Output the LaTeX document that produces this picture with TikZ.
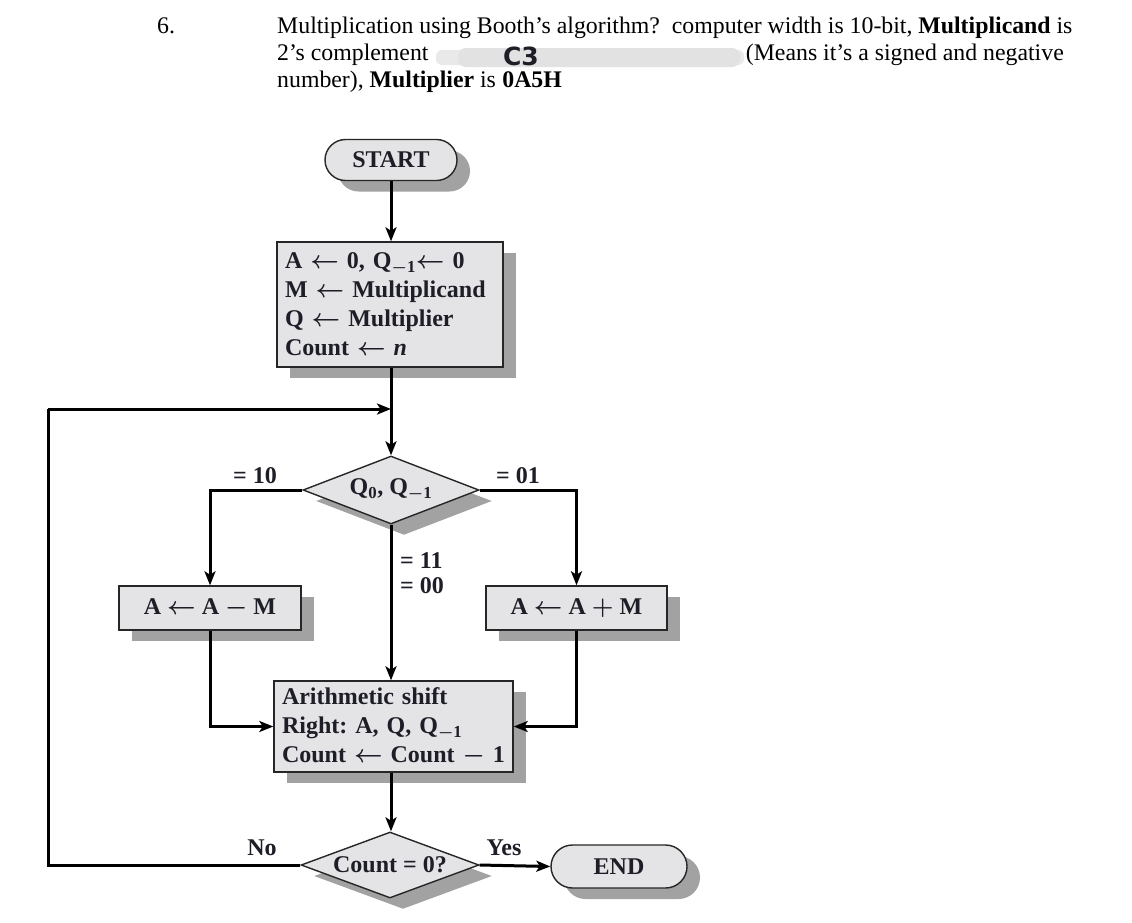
\documentclass[tikz,border=0pt]{standalone}
\usepackage{fontspec}
\setmainfont{Liberation Serif}
\newfontfamily\cfont{DejaVu Sans}
\usetikzlibrary{arrows.meta,shapes.geometric,shapes.misc,shadows}
\definecolor{boxfill}{HTML}{E4E4E6}
\definecolor{shadowc}{HTML}{A2A2A2}
\definecolor{inkc}{HTML}{1E1E28}
\definecolor{blurc}{HTML}{E2E2E2}
\frenchspacing
\tikzset{
  hdr/.style={inner sep=0pt, font=\fontsize{23.8}{27}\selectfont, text=black},
  fcfont/.style={font=\fontsize{24}{29}\selectfont\bfseries\boldmath, text=inkc},
  shad/.style={drop shadow={shadow xshift=13pt, shadow yshift=-11pt, fill=shadowc, opacity=1}},
  procbox/.style={rectangle, draw=black!85, line width=1.4pt, fill=boxfill, shad, fcfont},
  termbox/.style={rounded rectangle, draw=black!85, line width=1.4pt, fill=boxfill, shad, fcfont, inner sep=0pt},
  decbox/.style={diamond, draw=black!85, line width=1.4pt, fill=boxfill, shad, fcfont, inner sep=0pt, aspect=2.6},
  lbl/.style={fcfont, inner sep=0pt},
  conn/.style={line width=3pt, black, line cap=butt},
  arr/.style={conn, -{Stealth[length=14pt, width=11pt, inset=3.5pt]}},
}
\begin{document}
\begin{tikzpicture}[x=1pt, y=-1pt]
\useasboundingbox[fill=white] (0,0) rectangle (1132,922);

% ---------- header ----------
\node[hdr, anchor=base west] (num) at (157,33) {6.};
\node[hdr, anchor=base west] (l1) at (277,33) {Multiplication using Booth’s algorithm?\ \ computer width is 10-bit, \textbf{Multiplicand} is};
\node[hdr, anchor=base west] (l2a) at (277,60) {2’s complement};
\fill[blurc!75!white, rounded corners=6pt] (436,50) rectangle (744,65);
\fill[blurc, rounded corners=8pt] (458,48) rectangle (740,67);
\node[inner sep=0pt, text=inkc, anchor=base] (c3) at (521,65) {\cfont\bfseries\fontsize{25}{26}\selectfont C3};
\node[hdr, anchor=base east] (l2b) at (1064,60) {(Means it’s a signed and negative};
\node[hdr, anchor=base west] (l3) at (277,87) {number), \textbf{Multiplier} is};
\node[hdr, anchor=base west] (l3b) at ([xshift=6pt]l3.base east) {\textbf{0A5H}};

% ---------- flowchart nodes ----------
\node[termbox, minimum width=132pt, minimum height=41pt] (start) at (391,160) {START};
\node[procbox, minimum width=226pt, minimum height=125pt, text width=210pt, inner xsep=8pt, align=left] (init) at (390,304.5)
  {A $\leftarrow$ 0, Q\textsubscript{$-$1}$\leftarrow$ 0\\ M $\leftarrow$ Multiplicand\\ Q $\leftarrow$ Multiplier\\ Count $\leftarrow$ \textit{n}};
\coordinate (merge) at (391,409);
\coordinate (lc) at (48,409);
\node[decbox, minimum width=176pt, minimum height=68pt] (d1) at (391,490) {Q\textsubscript{0}, Q\textsubscript{$-$1}};
\node[procbox, minimum width=182pt, minimum height=44pt] (sub) at (210,608) {A $\leftarrow$ A $-$ M};
\node[procbox, minimum width=181pt, minimum height=44pt] (add) at (576.5,608) {A $\leftarrow$ A $+$ M};
\node[procbox, minimum width=239pt, minimum height=91pt, text width=223pt, inner xsep=8pt, align=left] (shift) at (393.5,726.5)
  {Arithmetic shift\\ Right: A, Q, Q\textsubscript{$-$1}\\ Count $\leftarrow$ Count $-$ 1};
\node[decbox, minimum width=178pt, minimum height=66pt] (d2) at (390,865) {Count = 0?};
\node[termbox, minimum width=136pt, minimum height=43pt] (end) at (619,866.5) {END};

% ---------- labels ----------
\node[lbl] (t10) at (255,476) {= 10};
\node[lbl] (t01) at (518,476) {= 01};
\node[lbl, anchor=west] (t11) at (400,561) {= 11};
\node[lbl, anchor=west] (t00) at (400,586) {= 00};
\node[lbl] (tno) at (262,848) {No};
\node[lbl] (tyes) at (504,848) {Yes};

% ---------- connectors ----------
\draw[arr] (start.south) -- (start.south |- init.north);
\draw[arr] (init.south -| merge) -- (d1.north);
\draw[arr] (d1.west) -| (sub.north);
\draw[arr] (d1.east) -| (add.north);
\draw[arr] (d1.south) -- (d1.south |- shift.north);
\draw[arr] (sub.south) |- (shift.west);
\draw[arr] (add.south) |- (shift.east);
\draw[arr] (shift.south -| d1.south) -- (d1.south |- d2.north);
\draw[arr] (d2.east) -- (end.west);
\draw[conn] (d2.west) -| (lc);
\draw[arr] (lc) -- (merge);
\end{tikzpicture}
\end{document}
